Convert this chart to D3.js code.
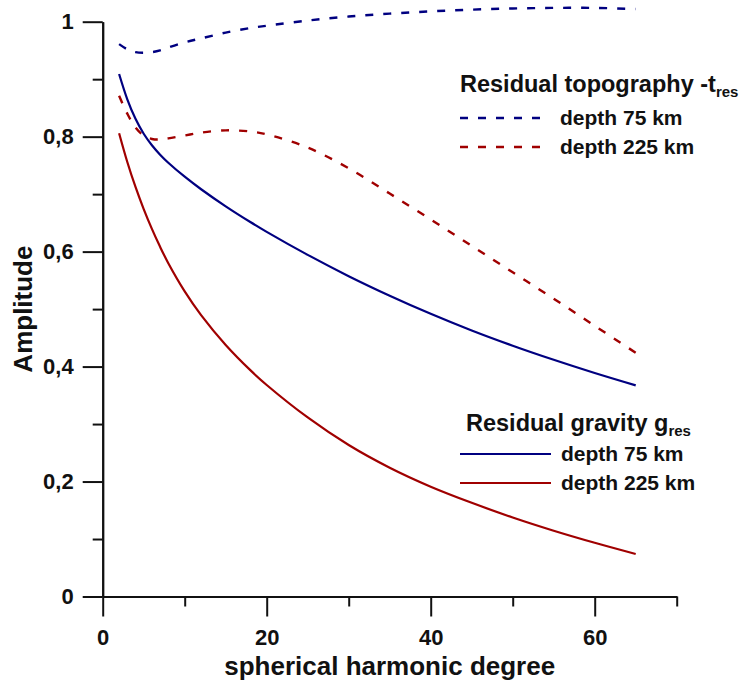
<!DOCTYPE html>
<html>
<head>
<meta charset="utf-8">
<script src="https://cdn.jsdelivr.net/npm/d3@7"></script>
<style>
  html, body { margin: 0; padding: 0; background: #fff; }
  svg { display: block; font-family: "Liberation Sans", Arial, sans-serif; font-weight: bold; }
</style>
</head>
<body>
<svg id="chart" width="741" height="684"></svg>
<script>
// ---- data ----
const degrees = [2, 3, 4, 5, 6, 7, 8, 10, 12, 15, 18, 20, 25, 30, 35, 40, 45, 50, 55, 60, 65];

const topo75  = [0.961, 0.952, 0.947, 0.946, 0.947, 0.950, 0.955, 0.964, 0.971, 0.981, 0.989, 0.993, 1.002, 1.009, 1.014, 1.018, 1.021, 1.023, 1.024, 1.024, 1.022];
const topo225 = [0.871, 0.840, 0.816, 0.802, 0.796, 0.795, 0.797, 0.802, 0.807, 0.811, 0.809, 0.804, 0.781, 0.745, 0.701, 0.656, 0.610, 0.564, 0.518, 0.471, 0.424];
const grav75  = [0.909, 0.865, 0.831, 0.805, 0.785, 0.7687, 0.7547, 0.7303, 0.7085, 0.6788, 0.6515, 0.6343, 0.5943, 0.5573, 0.5233, 0.4918, 0.4628, 0.4363, 0.4118, 0.3888, 0.3673];
const grav225 = [0.806, 0.756, 0.7125, 0.674, 0.6395, 0.6083, 0.5799, 0.5309, 0.4895, 0.4376, 0.3938, 0.368, 0.3115, 0.2635, 0.224, 0.191, 0.163, 0.1375, 0.1145, 0.0935, 0.074];

const xMajorTicks = [0, 20, 40, 60];
const xMinorTicks = [10, 30, 50, 70];
const yMajorTicks = [0, 0.2, 0.4, 0.6, 0.8, 1];
const yMinorTicks = [0.1, 0.3, 0.5, 0.7, 0.9];

const seriesNames = ["depth 75 km", "depth 225 km"];
const titleTopo = "Residual topography -t";
const titleGrav = "Residual gravity g";
const subRes = "res";
const xTitle = "spherical harmonic degree";
const yTitle = "Amplitude";

// ---- drawing ----
const BLUE = "#000080";
const RED = "#a00000";
const svg = d3.select("#chart");

const x = d3.scaleLinear().domain([0, 70]).range([102.7, 676.7]);
const y = d3.scaleLinear().domain([0, 1]).range([596.5, 21.7]);

const fmt = d => String(d).replace(".", ",");

function styleAxis(g) {
  g.select(".domain").attr("stroke", "#111").attr("stroke-width", 2);
  g.selectAll(".tick line").attr("stroke", "#111").attr("stroke-width", 2);
  g.selectAll("text").attr("fill", "#111").style("font-size", "22px")
    .style("font-weight", "bold").style("font-family", "'Liberation Sans', Arial, sans-serif");
}

// x axis
const gx = svg.append("g").attr("transform", `translate(0,${y(0)})`);
gx.call(d3.axisBottom(x).tickValues(xMajorTicks).tickSize(20).tickSizeOuter(0).tickPadding(13).tickFormat(fmt));
styleAxis(gx);
const gxm = svg.append("g").attr("transform", `translate(0,${y(0)})`);
gxm.call(d3.axisBottom(x).tickValues(xMinorTicks).tickSize(10).tickSizeOuter(0).tickFormat(""));
styleAxis(gxm);

// y axis
const gy = svg.append("g").attr("transform", `translate(${x(0)},0)`);
gy.call(d3.axisLeft(y).tickValues(yMajorTicks).tickSize(20).tickSizeOuter(0).tickPadding(9).tickFormat(fmt));
styleAxis(gy);
const gym = svg.append("g").attr("transform", `translate(${x(0)},0)`);
gym.call(d3.axisLeft(y).tickValues(yMinorTicks).tickSize(10).tickSizeOuter(0).tickFormat(""));
styleAxis(gym);

// axis titles
svg.append("text").attr("x", (x(0) + x(70)) / 2).attr("y", 675)
  .attr("text-anchor", "middle").style("font-size", "26px").attr("fill", "#111").text(xTitle);
svg.append("text").attr("transform", `translate(32,${(y(0) + y(1)) / 2}) rotate(-90)`)
  .attr("text-anchor", "middle").style("font-size", "26px").attr("fill", "#111").text(yTitle);

// lines
const line = vals => d3.line().x((d, i) => x(degrees[i])).y(d => y(d)).curve(d3.curveCatmullRom.alpha(0.5))(vals);

const series = [
  { vals: topo75, color: BLUE, dash: "8,10" },
  { vals: topo225, color: RED, dash: "8,10" },
  { vals: grav75, color: BLUE, dash: null },
  { vals: grav225, color: RED, dash: null }
];
series.forEach(s => {
  svg.append("path").attr("d", line(s.vals)).attr("fill", "none")
    .attr("stroke", s.color).attr("stroke-width", s.dash ? 2.4 : 2.2)
    .attr("stroke-dasharray", s.dash);
});

// legends
function legendTitle(xp, yp, main) {
  const t = svg.append("text").attr("x", xp).attr("y", yp).style("font-size", "23.5px").attr("fill", "#111");
  t.append("tspan").text(main);
  t.append("tspan").attr("dy", 5).style("font-size", "15px").text(subRes);
}
legendTitle(460, 92, titleTopo);
[[118, BLUE], [147, RED]].forEach(([ly, c], i) => {
  svg.append("line").attr("x1", 460).attr("x2", 542).attr("y1", ly).attr("y2", ly)
    .attr("stroke", c).attr("stroke-width", 2.4).attr("stroke-dasharray", "8,10");
  svg.append("text").attr("x", 560).attr("y", ly + 7).style("font-size", "21px").attr("fill", "#111").text(seriesNames[i]);
});

legendTitle(466, 431, titleGrav);
[[454, BLUE], [483, RED]].forEach(([ly, c], i) => {
  svg.append("line").attr("x1", 460).attr("x2", 551).attr("y1", ly).attr("y2", ly)
    .attr("stroke", c).attr("stroke-width", 2.2);
  svg.append("text").attr("x", 561).attr("y", ly + 7).style("font-size", "21px").attr("fill", "#111").text(seriesNames[i]);
});
</script>
</body>
</html>
